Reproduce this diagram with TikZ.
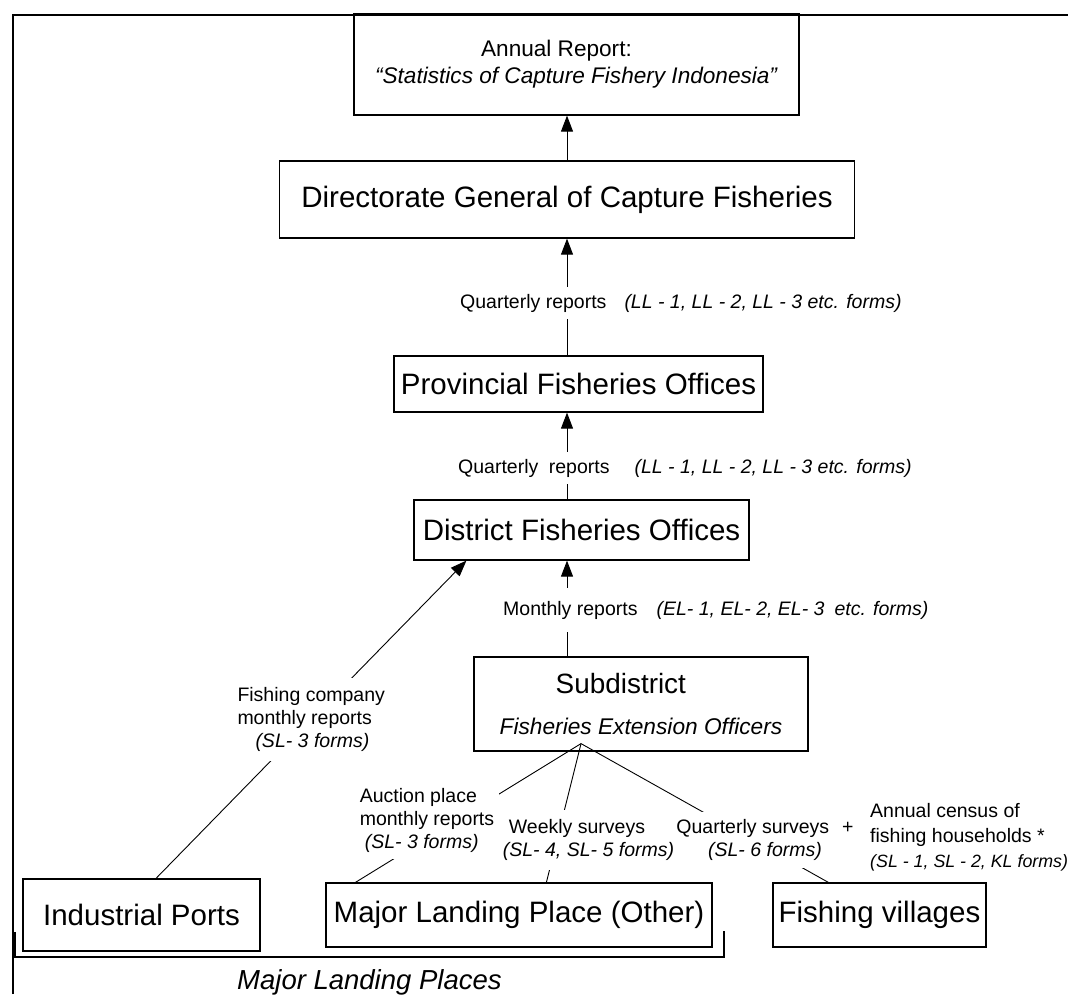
\documentclass[tikz,border=0pt]{standalone}
\usepackage{fontspec}
\setmainfont{Liberation Sans}
\usetikzlibrary{arrows.meta}

\begin{document}
\begin{tikzpicture}[x=1pt, y=-1pt, >={Triangle[length=16pt,width=12pt]},
        office/.style={draw, line width=1.2pt, inner sep=0pt, font=\fontsize{29.5}{35}\selectfont},
        note/.style={fill=white, inner xsep=5pt, inner ysep=7pt, font=\fontsize{19.5}{23}\selectfont},
        link/.style={line width=0.9pt}]
        \useasboundingbox (0, 0) rectangle (1068, 994);
        \draw[line width=2.2pt] (13, 994) -- (13, 15) -- (1068, 15);

        \node[office, minimum width=445, minimum height=101, align=left, font=\fontsize{22.6}{27}\selectfont] at (576.5, 64.5)(annual){\hspace*{106pt}Annual Report:\\\textit{“Statistics of Capture Fishery Indonesia”}};
        \node[office, minimum width=575, minimum height=77] at (567, 199.5)(dg){Directorate General of Capture Fisheries};
        \node[office, minimum width=369, minimum height=56] at (578.5, 384)(prov){Provincial Fisheries Offices};
        \node[office, minimum width=335, minimum height=60] at (581.5, 530)(dist){District Fisheries Offices};
        \node[office, minimum width=334, minimum height=94, align=left] at (641, 704)(sub){\fontsize{27.9}{30}\selectfont\hspace*{56pt}Subdistrict\\[6pt]\fontsize{22.7}{27}\selectfont\itshape Fisheries Extension Officers};
        \node[office, minimum width=237, minimum height=72] at (141.5, 915)(ports){Industrial Ports};
        \node[office, minimum width=386, minimum height=64] at (519, 915)(major){Major Landing Place (Other)};
        \node[office, minimum width=213, minimum height=64] at (879.5, 915)(vill){Fishing villages};
        \coordinate (apex) at ([xshift=-60pt, yshift=8pt]sub.south);

        \path[->, link]
        (dg.north) edge (annual.south -| dg.north)
        (prov.north -| dg.north) edge (dg.south)
        (dist.north -| dg.north) edge (prov.south -| dg.north)
        (sub.north -| dg.north) edge (dist.south -| dg.north)
        ([xshift=14.5pt]ports.north) edge node[note, align=left, inner sep=9pt]{Fishing company\\monthly reports\\\hspace*{18pt}\textit{(SL- 3 forms)}} ([xshift=53pt]dist.south west)
        ;
        \path[link]
        (apex) edge ([xshift=30pt]major.north west)
        (apex) edge ([xshift=221pt]major.north west)
        (apex) edge ([xshift=56pt]vill.north west)
        ;

        \node[note, anchor=west] at (455, 303)(qrep){Quarterly reports\hspace{18pt}\textit{(LL - 1, LL - 2, LL - 3 etc. forms)}};
        \node[note, anchor=west] at (453, 468)(qrepb){Quarterly\hspace{10.5pt}reports\hspace{25pt}\textit{(LL - 1, LL - 2, LL - 3 etc. forms)}};
        \node[note, anchor=west, inner ysep=13pt] at (498, 610)(mrep){Monthly reports\hspace{19pt}\textit{(EL- 1, EL- 2, EL- 3\hspace{10pt}etc. forms)}};
        \node[note, align=left] at (427, 820)(auction){Auction place\\monthly reports\\\hspace*{5pt}\textit{(SL- 3 forms)}};
        \node[note, align=left, inner xsep=1pt, inner ysep=9pt] at (588.5, 840)(weekly){\hspace*{6pt}Weekly surveys\\\textit{(SL- 4, SL- 5 forms)}};
        \node[note, align=center, inner xsep=1pt] at (765, 840)(qsurv){Quarterly surveys\hspace{13pt}+\\\textit{(SL- 6 forms)}};
        \node[note, anchor=west, align=left, inner xsep=3pt, font=\fontsize{19.5}{25}\selectfont] at (867, 837)(census){Annual census of\\fishing households *\\\fontsize{17.8}{25}\selectfont\itshape (SL - 1, SL - 2, KL forms)};

        \draw[line width=1.6pt] (15, 932) -- (15, 957) -- (724, 957) -- (724, 931);
        \node[anchor=west, inner sep=0pt, font=\fontsize{27.5}{33}\selectfont\itshape] at (237, 982)(mlp){Major Landing Places};
    \end{tikzpicture}
\end{document}
